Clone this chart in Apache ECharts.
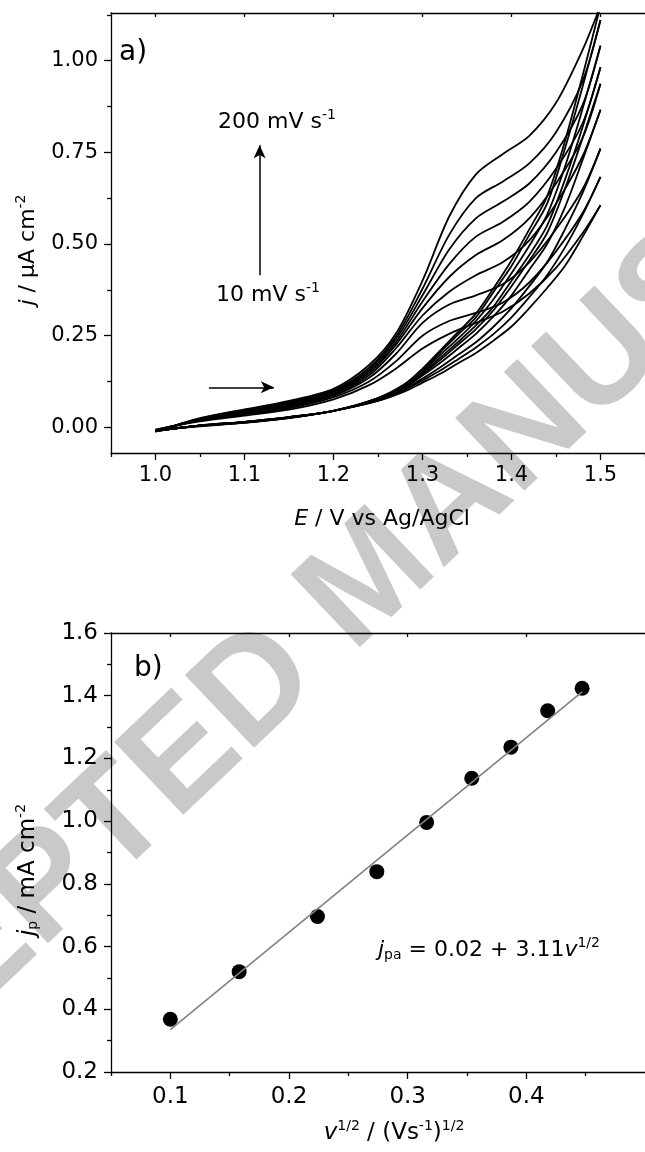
<!DOCTYPE html>
<html>
<head>
<meta charset="utf-8">
<style>
  html, body { margin: 0; padding: 0; background: #fff; }
  #chart { width: 645px; height: 1152px; }
</style>
<script src="https://cdn.jsdelivr.net/npm/echarts@6.0.0/dist/echarts.min.js"></script>
</head>
<body>
<div id="chart"></div>
<script>
// scan rates (mV/s), one forward and one reverse branch per rate
const scanRates = [10, 25, 50, 75, 100, 125, 150, 175, 200];

// forward (anodic) sweep, E / V and j / uA cm-2
const forwardE = [1.00, 1.05, 1.10, 1.15, 1.20, 1.24, 1.27, 1.30, 1.33, 1.36, 1.39, 1.42, 1.45, 1.48, 1.50];
const forwardJ = [
  [-0.006, 0.016, 0.032, 0.048, 0.076, 0.115, 0.160, 0.215, 0.255, 0.285, 0.315, 0.365, 0.435, 0.530, 0.606],
  [-0.007, 0.018, 0.035, 0.052, 0.082, 0.125, 0.180, 0.250, 0.290, 0.312, 0.340, 0.395, 0.480, 0.585, 0.683],
  [-0.008, 0.019, 0.037, 0.055, 0.086, 0.135, 0.200, 0.285, 0.335, 0.360, 0.390, 0.450, 0.540, 0.650, 0.760],
  [-0.009, 0.020, 0.039, 0.058, 0.089, 0.142, 0.215, 0.305, 0.370, 0.415, 0.450, 0.510, 0.610, 0.740, 0.866],
  [-0.010, 0.021, 0.041, 0.060, 0.092, 0.148, 0.225, 0.325, 0.410, 0.470, 0.510, 0.570, 0.665, 0.790, 0.937],
  [-0.010, 0.022, 0.043, 0.063, 0.095, 0.153, 0.232, 0.343, 0.445, 0.520, 0.560, 0.615, 0.705, 0.830, 0.982],
  [-0.011, 0.023, 0.045, 0.066, 0.098, 0.158, 0.240, 0.360, 0.485, 0.570, 0.615, 0.665, 0.750, 0.880, 1.041],
  [-0.012, 0.024, 0.047, 0.069, 0.101, 0.163, 0.247, 0.378, 0.525, 0.625, 0.670, 0.720, 0.805, 0.945, 1.111],
  [-0.012, 0.025, 0.049, 0.072, 0.105, 0.170, 0.255, 0.400, 0.575, 0.690, 0.745, 0.795, 0.885, 1.030, 1.150]
];

// reverse sweep
const reverseE = [1.50, 1.48, 1.46, 1.44, 1.42, 1.40, 1.38, 1.36, 1.34, 1.32, 1.30, 1.28, 1.25, 1.20, 1.15, 1.10, 1.05, 1.00];
const reverseJ = [
  [0.606, 0.520, 0.440, 0.380, 0.325, 0.275, 0.237, 0.203, 0.175, 0.146, 0.122, 0.098, 0.072, 0.045, 0.025, 0.012, 0.003, -0.008],
  [0.683, 0.580, 0.490, 0.415, 0.355, 0.300, 0.255, 0.218, 0.186, 0.155, 0.128, 0.102, 0.073, 0.045, 0.026, 0.013, 0.004, -0.008],
  [0.760, 0.640, 0.540, 0.450, 0.385, 0.325, 0.275, 0.232, 0.198, 0.164, 0.133, 0.104, 0.074, 0.045, 0.026, 0.013, 0.004, -0.009],
  [0.866, 0.730, 0.600, 0.500, 0.430, 0.360, 0.303, 0.255, 0.215, 0.176, 0.141, 0.108, 0.076, 0.045, 0.027, 0.014, 0.004, -0.009],
  [0.937, 0.790, 0.650, 0.530, 0.455, 0.385, 0.320, 0.268, 0.226, 0.184, 0.145, 0.110, 0.077, 0.045, 0.027, 0.014, 0.005, -0.010],
  [0.982, 0.820, 0.675, 0.550, 0.470, 0.400, 0.330, 0.278, 0.233, 0.190, 0.148, 0.112, 0.078, 0.045, 0.027, 0.014, 0.005, -0.010],
  [1.041, 0.870, 0.710, 0.580, 0.495, 0.420, 0.350, 0.290, 0.242, 0.198, 0.152, 0.114, 0.079, 0.045, 0.028, 0.015, 0.005, -0.010],
  [1.111, 0.930, 0.760, 0.610, 0.525, 0.440, 0.370, 0.300, 0.253, 0.205, 0.157, 0.117, 0.080, 0.045, 0.028, 0.015, 0.005, -0.010],
  [1.150, 0.960, 0.780, 0.630, 0.540, 0.455, 0.380, 0.310, 0.260, 0.210, 0.160, 0.118, 0.080, 0.045, 0.028, 0.015, 0.005, -0.010]
];

// panel b: peak current vs square root of scan rate
const rootRate = [0.100, 0.158, 0.224, 0.274, 0.316, 0.354, 0.387, 0.418, 0.447];
const peakCurrent = [0.368, 0.520, 0.696, 0.839, 0.996, 1.137, 1.236, 1.352, 1.424];
const fitLineX = [0.100, 0.447];
const fitLineY = [0.335, 1.412];

// annotation arrows (data units of panel a)
const rateArrow = [[1.117, 0.415], [1.117, 0.769]];
const sweepArrow = [[1.060, 0.109], [1.133, 0.109]];

// tick positions
const xTicksA = [1.0, 1.1, 1.2, 1.3, 1.4, 1.5];
const xMinorA = [0.95, 1.05, 1.15, 1.25, 1.35, 1.45, 1.55];
const yTicksA = [0, 0.25, 0.5, 0.75, 1.0];
const yMinorA = [0.125, 0.375, 0.625, 0.875, 1.125];
const xTicksB = [0.1, 0.2, 0.3, 0.4];
const xMinorB = [0.05, 0.15, 0.25, 0.35, 0.45];

const FONT = "DejaVu Sans";
const axisLine = { onZero: false, lineStyle: { color: "#000", width: 1.3 } };
const tickLine = { color: "#000", width: 1.3 };

const richText = (size) => ({
  n: { fontSize: size, fontFamily: FONT, fill: "#000" },
  i: { fontSize: size, fontFamily: FONT, fontStyle: "italic", fill: "#000" },
  sup: { fontSize: Math.round(size * 0.62), fontFamily: FONT, fill: "#000", padding: [0, 0, 14, 0] },
  sub: { fontSize: Math.round(size * 0.62), fontFamily: FONT, fill: "#000", padding: [10, 0, 0, 0] }
});

const label = (text, x, y, size, extra) =>
  Object.assign({
    type: "text",
    x: x,
    y: y,
    style: {
      text: text,
      rich: richText(size),
      fontSize: size,
      fontFamily: FONT,
      fill: "#000",
      align: "left",
      verticalAlign: "middle"
    }
  }, extra || {});

const chart = echarts.init(document.getElementById("chart"));

const series = [];
scanRates.forEach((rate, k) => {
  const common = {
    type: "line",
    xAxisIndex: 0,
    yAxisIndex: 0,
    symbol: "none",
    smooth: 0.3,
    lineStyle: { color: "#000", width: 1.8 },
    silent: true,
    z: 3
  };
  series.push(Object.assign({ name: rate + " fwd", data: forwardE.map((e, i) => [e, forwardJ[k][i]]) }, common));
  series.push(Object.assign({ name: rate + " rev", data: reverseE.map((e, i) => [e, reverseJ[k][i]]) }, common));
});

// arrows drawn as mark lines in data space
series.push({
  type: "line",
  xAxisIndex: 0,
  yAxisIndex: 0,
  data: [],
  silent: true,
  markLine: {
    silent: true,
    animation: false,
    symbol: ["none", "arrow"],
    symbolSize: [9, 13],
    label: { show: false },
    lineStyle: { color: "#000", width: 1.5, type: "solid" },
    emphasis: { disabled: true },
    data: [
      [{ coord: rateArrow[0] }, { coord: rateArrow[1] }],
      [{ coord: sweepArrow[0] }, { coord: sweepArrow[1] }]
    ]
  }
});

series.push({
  type: "scatter",
  xAxisIndex: 3,
  yAxisIndex: 2,
  symbol: "circle",
  symbolSize: 15,
  itemStyle: { color: "#000", opacity: 1 },
  data: rootRate.map((x, i) => [x, peakCurrent[i]]),
  z: 3
});

series.push({
  type: "line",
  xAxisIndex: 3,
  yAxisIndex: 2,
  symbol: "none",
  lineStyle: { color: "#808080", width: 1.6 },
  data: fitLineX.map((x, i) => [x, fitLineY[i]]),
  z: 4
});

const option = {
  animation: false,
  backgroundColor: "#fff",
  textStyle: { fontFamily: FONT },
  grid: [
    { left: 111, top: 13, width: 542, height: 440 },
    { left: 111, top: 633, width: 572, height: 439 }
  ],
  xAxis: [
    {
      gridIndex: 0, type: "value", position: "bottom", min: 0.95, max: 1.55,
      axisLine: axisLine,
      axisTick: { customValues: xTicksA, length: 7, lineStyle: tickLine },
      axisLabel: { customValues: xTicksA, margin: 12, fontSize: 21, fontFamily: FONT, color: "#000",
        formatter: (v) => v.toFixed(1) },
      splitLine: { show: false }
    },
    {
      gridIndex: 0, type: "value", position: "bottom", min: 0.95, max: 1.55,
      axisLine: { show: false, onZero: false },
      axisTick: { customValues: xMinorA, length: 4, lineStyle: tickLine },
      axisLabel: { show: false },
      splitLine: { show: false }
    },
    {
      gridIndex: 0, type: "value", position: "top", min: 0.95, max: 1.55,
      axisLine: axisLine,
      axisTick: { customValues: xTicksA, inside: true, length: 4, lineStyle: tickLine },
      axisLabel: { show: false },
      splitLine: { show: false }
    },
    {
      gridIndex: 1, type: "value", position: "bottom", min: 0.05, max: 0.5,
      axisLine: axisLine,
      axisTick: { customValues: xTicksB, length: 7, lineStyle: tickLine },
      axisLabel: { customValues: xTicksB, margin: 14, fontSize: 23, fontFamily: FONT, color: "#000",
        formatter: (v) => v.toFixed(1) },
      splitLine: { show: false }
    },
    {
      gridIndex: 1, type: "value", position: "bottom", min: 0.05, max: 0.5,
      axisLine: { show: false, onZero: false },
      axisTick: { customValues: xMinorB, length: 4, lineStyle: tickLine },
      axisLabel: { show: false },
      splitLine: { show: false }
    },
    {
      gridIndex: 1, type: "value", position: "top", min: 0.05, max: 0.5,
      axisLine: axisLine,
      axisTick: { customValues: xTicksB, inside: true, length: 4, lineStyle: tickLine },
      axisLabel: { show: false },
      splitLine: { show: false }
    }
  ],
  yAxis: [
    {
      gridIndex: 0, type: "value", position: "left", min: -0.07, max: 1.13,
      axisLine: axisLine,
      axisTick: { customValues: yTicksA, length: 7, lineStyle: tickLine },
      axisLabel: { customValues: yTicksA, margin: 13, fontSize: 21, fontFamily: FONT, color: "#000",
        formatter: (v) => v.toFixed(2) },
      splitLine: { show: false }
    },
    {
      gridIndex: 0, type: "value", position: "left", min: -0.07, max: 1.13,
      axisLine: { show: false, onZero: false },
      axisTick: { customValues: yMinorA, length: 4, lineStyle: tickLine },
      axisLabel: { show: false },
      splitLine: { show: false }
    },
    {
      gridIndex: 1, type: "value", position: "left", min: 0.2, max: 1.6, interval: 0.2,
      axisLine: axisLine,
      axisTick: { length: 7, lineStyle: tickLine },
      minorTick: { show: true, splitNumber: 2, length: 4, lineStyle: tickLine },
      axisLabel: { margin: 13, fontSize: 23, fontFamily: FONT, color: "#000",
        formatter: (v) => v.toFixed(1) },
      splitLine: { show: false }
    }
  ],
  graphic: [
    {
      type: "text",
      x: 372,
      y: 580,
      rotation: 0.76,
      z: -10,
      silent: true,
      style: {
        text: "ACCEPTED MANUSCRIPT",
        font: "bold 146px Liberation Sans",
        fill: "#c9c9c9",
        align: "center",
        verticalAlign: "middle"
      }
    },
    label("{n|a)}", 119, 53, 28),
    label("{n|b)}", 134, 669, 28),
    label("{n|200 mV s}{sup|-1}", 218, 122, 22),
    label("{n|10 mV s}{sup|-1}", 216, 295, 22),
    label("{i|j}{sub|pa}{n| = 0.02 + 3.11}{i|v}{sup|1/2}", 378, 950, 22),
    label("{i|E}{n| / V vs Ag/AgCl}", 382, 519, 22, {}),
    label("{i|v}{sup|1/2}{n| / (Vs}{sup|-1}{n|)}{sup|1/2}", 394, 1133, 23, {}),
    label("{i|j}{n| / \u03bcA cm}{sup|-2}", 28, 250, 22, { rotation: Math.PI / 2 }),
    label("{i|j}{sub|p}{n| / mA cm}{sup|-2}", 28, 870, 23, { rotation: Math.PI / 2 })
  ],
  series: series
};

// centre the axis titles on their anchor points
[6, 7, 8, 9].forEach((k) => { option.graphic[k].style.align = "center"; });

chart.setOption(option);
</script>
</body>
</html>
